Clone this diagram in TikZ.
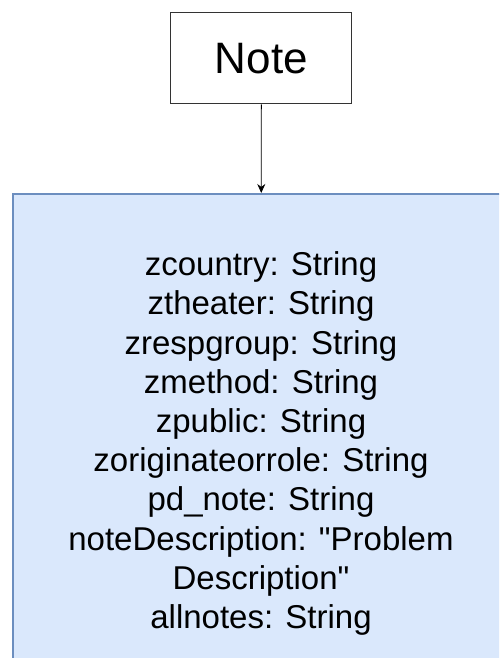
\documentclass[tikz,border=0pt]{standalone}
\usepackage{fontspec}
\setmainfont{Liberation Sans}[Ligatures=TeXOff]
\usetikzlibrary{arrows.meta,positioning}
\definecolor{fieldfill}{HTML}{DAE8FC}
\definecolor{fieldline}{HTML}{6C8EBF}
\tikzset{ % Shared looks of the boxes and the link
	notebox/.style={
		draw=black!80, line width=1pt,
		minimum width=181pt, minimum height=91pt, % Size of the title box
		font=\fontsize{44}{52}\selectfont
	},
	fieldbox/.style={
		draw=fieldline, fill=fieldfill, line width=2pt,
		minimum width=497pt, minimum height=499pt, % Runs past the page on two sides
		align=center, font=\fontsize{33}{39.2}\selectfont
	},
	link/.style={-{Stealth[length=9pt,width=8pt]}, line width=0.8pt}
}

\begin{document}
\begin{tikzpicture}[x=1pt,y=-1pt]
		% Page frame
		\useasboundingbox (0,0) rectangle (499,658);
		\clip (0,0) rectangle (499,658);
		% Boxes
		\node [notebox] (note) at (261.4,58.5) {Note};
		\node [fieldbox] (fields) at (261,443.5) {zcountry: String\\
			ztheater: String\\
			zrespgroup: String\\
			zmethod: String\\
			zpublic: String\\
			zoriginateorrole: String\\
			pd\_note: String\\
			noteDescription: "Problem\\
			Description"\\
			allnotes: String};
		% Link
		\draw [link] (note) -- (fields);
\end{tikzpicture}
\end{document}
